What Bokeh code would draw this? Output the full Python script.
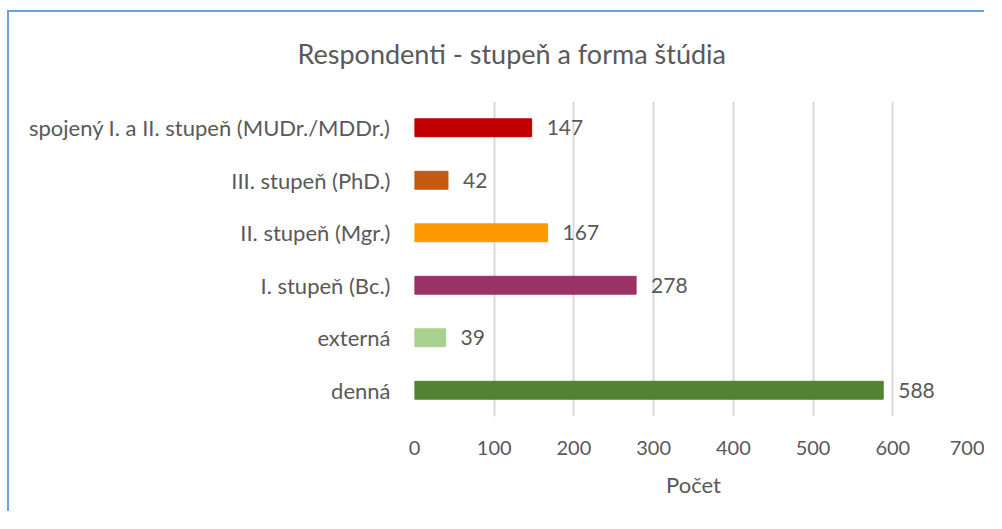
from bokeh.plotting import figure
from bokeh.models import ColumnDataSource, Range1d, FactorRange, FixedTicker, Title
from bokeh.core.properties import value
from bokeh.embed import file_html
from bokeh.resources import INLINE

categories = ["denná", "externá", "I. stupeň (Bc.)", "II. stupeň (Mgr.)",
              "III. stupeň (PhD.)", "spojený I. a II. stupeň (MUDr./MDDr.)"]
counts = [588, 39, 278, 167, 42, 147]
colors = ["#548235", "#a9d18e", "#993366", "#ff9900", "#c55a11", "#c00000"]
x_ticks = [0, 100, 200, 300, 400, 500, 600, 700]
title_text = "Respondenti - stupeň a forma štúdia"
x_title = "Počet"

FONT = "Lato"
GRAY = "#595959"

src = ColumnDataSource(dict(cat=categories, val=counts, col=colors,
                            lab=[str(v) for v in counts]))

p = figure(width=977, height=501, output_backend="svg", toolbar_location=None,
           x_range=Range1d(0, 700), y_range=FactorRange(*categories),
           min_border_left=405, min_border_right=14, min_border_top=88,
           min_border_bottom=97)
p.styles = {"border-left": "2px solid #6aa2dc", "border-top": "2px solid #6aa2dc",
            "margin-top": "10px", "margin-left": "7px"}
p.outline_line_color = None
p.background_fill_color = "white"

spacer = Title(text=" ", text_font_size="2px", standoff=6)
p.add_layout(spacer, "above")
main_title = Title(text=title_text, align="left", offset=-117, standoff=44,
                   text_font=FONT, text_font_size="27px",
                   text_font_style="normal", text_color=GRAY)
p.add_layout(main_title, "above")

p.hbar(y="cat", right="val", left=0, height=0.34, color="col", source=src)
p.text(x="val", y="cat", text="lab", source=src, x_offset=15,
       text_baseline="middle", text_align="left", text_color=GRAY,
       text_font=value(FONT), text_font_size="21px")

p.xaxis.ticker = FixedTicker(ticks=x_ticks)
p.xaxis.axis_label = x_title
for ax in (p.xaxis[0], p.yaxis[0]):
    ax.axis_line_color = None
    ax.major_tick_line_color = None
    ax.minor_tick_line_color = None
    ax.major_label_text_font = FONT
    ax.major_label_text_color = GRAY
p.xaxis.major_label_text_font_size = "20px"
p.yaxis.major_label_text_font_size = "22px"
p.xaxis.major_label_standoff = 18
p.xaxis.axis_label_text_font = FONT
p.xaxis.axis_label_text_font_size = "22px"
p.xaxis.axis_label_text_font_style = "normal"
p.xaxis.axis_label_text_color = GRAY
p.xaxis.axis_label_standoff = 13
p.yaxis.major_label_standoff = 18

p.xgrid.grid_line_color = "#d9d9d9"
p.xgrid.grid_line_width = 2
p.ygrid.grid_line_color = None

open("out.html", "w").write(file_html(p, INLINE))
